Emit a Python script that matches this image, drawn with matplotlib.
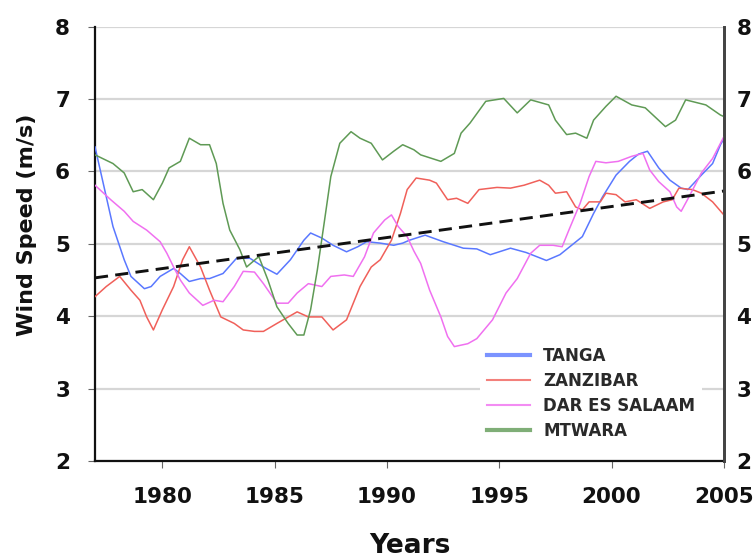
import numpy as np
import matplotlib
matplotlib.use("Agg")
import matplotlib.pyplot as plt

# values (smoothed wind speed, m/s)
tanga_years = [1977.0, 1977.4, 1977.8, 1978.3, 1978.6, 1979.2, 1979.5, 1979.9, 1980.5, 1980.8,
               1981.2, 1981.7, 1982.1, 1982.7, 1983.3, 1983.9, 1984.5, 1985.1, 1985.7, 1986.3,
               1986.6, 1987.1, 1987.6, 1988.2, 1988.7, 1989.1, 1989.7, 1990.3, 1990.7, 1991.0,
               1991.7, 1992.5, 1993.4, 1994.0, 1994.6, 1995.5, 1996.2, 1997.1, 1997.7, 1998.1,
               1998.7, 1999.2, 1999.6, 2000.2, 2000.8, 2001.2, 2001.6, 2002.1, 2002.6, 2003.1,
               2003.4, 2004.0, 2004.5, 2004.85, 2005.0]
tanga = [6.34, 5.79, 5.24, 4.78, 4.55, 4.38, 4.41, 4.55, 4.66, 4.59,
         4.48, 4.52, 4.52, 4.59, 4.80, 4.80, 4.68, 4.58, 4.78, 5.05,
         5.15, 5.08, 4.98, 4.89, 4.96, 5.03, 5.01, 4.98, 5.01, 5.05,
         5.12, 5.03, 4.94, 4.93, 4.85, 4.94, 4.88, 4.77, 4.85, 4.95,
         5.10, 5.42, 5.65, 5.95, 6.14, 6.24, 6.28, 6.05, 5.88, 5.77,
         5.75, 5.95, 6.11, 6.37, 6.45]

zanzibar_years = [1977.0, 1977.5, 1978.1, 1978.6, 1979.0, 1979.3, 1979.6, 1980.0, 1980.5, 1980.9,
                  1981.2, 1981.7, 1982.1, 1982.6, 1983.2, 1983.6, 1984.1, 1984.5, 1985.1, 1986.0,
                  1986.5, 1987.1, 1987.6, 1988.2, 1988.8, 1989.3, 1989.7, 1990.2, 1990.6, 1990.9,
                  1991.3, 1991.9, 1992.2, 1992.7, 1993.1, 1993.6, 1994.1, 1994.9, 1995.5, 1996.1,
                  1996.8, 1997.2, 1997.5, 1998.0, 1998.4, 1998.7, 1999.0, 1999.5, 1999.75, 2000.2,
                  2000.6, 2001.1, 2001.7, 2002.3, 2002.7, 2003.0, 2003.6, 2004.0, 2004.5, 2005.0]
zanzibar = [4.27, 4.41, 4.55, 4.36, 4.22, 3.99, 3.81, 4.09, 4.41, 4.78,
            4.96, 4.68, 4.36, 3.99, 3.90, 3.81, 3.79, 3.79, 3.90, 4.06,
            3.99, 3.99, 3.81, 3.95, 4.41, 4.68, 4.78, 5.05, 5.42, 5.75,
            5.91, 5.88, 5.84, 5.61, 5.63, 5.56, 5.75, 5.78, 5.77, 5.81,
            5.88, 5.81, 5.70, 5.72, 5.51, 5.47, 5.58, 5.58, 5.70, 5.68,
            5.58, 5.61, 5.49, 5.58, 5.61, 5.77, 5.75, 5.70, 5.58, 5.40]

dar_years = [1977.0, 1977.7, 1978.3, 1978.7, 1979.3, 1979.9, 1980.2, 1980.5, 1980.8, 1981.2,
             1981.8, 1982.3, 1982.7, 1983.2, 1983.6, 1984.1, 1984.5, 1985.1, 1985.6, 1986.0,
             1986.5, 1987.1, 1987.5, 1988.1, 1988.5, 1989.0, 1989.4, 1989.9, 1990.2, 1990.5,
             1990.9, 1991.2, 1991.5, 1991.9, 1992.4, 1992.7, 1993.0, 1993.6, 1994.0, 1994.7,
             1995.3, 1995.8, 1996.4, 1996.8, 1997.4, 1997.8, 1998.1, 1998.6, 1999.0, 1999.3,
             1999.75, 2000.3, 2000.9, 2001.4, 2001.7, 2002.1, 2002.6, 2002.9, 2003.1, 2003.45,
             2004.0, 2004.5, 2005.0]
dar = [5.81, 5.61, 5.45, 5.31, 5.19, 5.03, 4.87, 4.68, 4.50, 4.32,
       4.15, 4.22, 4.20, 4.41, 4.62, 4.61, 4.45, 4.18, 4.18, 4.32,
       4.45, 4.41, 4.55, 4.57, 4.55, 4.82, 5.15, 5.33, 5.40, 5.24,
       5.10, 4.90, 4.73, 4.36, 3.99, 3.72, 3.58, 3.62, 3.69, 3.95,
       4.32, 4.52, 4.87, 4.98, 4.98, 4.96, 5.19, 5.56, 5.93, 6.14,
       6.12, 6.14, 6.21, 6.25, 6.02, 5.86, 5.72, 5.51, 5.45, 5.65,
       5.98, 6.18, 6.48]

mtwara_years = [1977.0, 1977.8, 1978.3, 1978.7, 1979.1, 1979.6, 1980.0, 1980.3, 1980.8, 1981.2,
                1981.7, 1982.1, 1982.4, 1982.7, 1983.0, 1983.45, 1983.75, 1984.2, 1984.3, 1984.7,
                1985.1, 1985.6, 1986.0, 1986.3, 1986.6, 1986.9, 1987.2, 1987.5, 1987.9, 1988.4,
                1988.8, 1989.3, 1989.8, 1990.3, 1990.7, 1991.2, 1991.5, 1992.4, 1993.0, 1993.3,
                1993.7, 1994.4, 1995.2, 1995.8, 1996.4, 1997.2, 1997.5, 1998.0, 1998.4, 1998.9,
                1999.2, 1999.75, 2000.2, 2000.9, 2001.5, 2002.4, 2002.85, 2003.3, 2004.2, 2004.85,
                2005.0]
mtwara = [6.23, 6.11, 5.98, 5.72, 5.75, 5.61, 5.84, 6.05, 6.14, 6.46,
          6.37, 6.37, 6.11, 5.56, 5.19, 4.92, 4.68, 4.80, 4.82, 4.50,
          4.13, 3.90, 3.74, 3.74, 4.09, 4.64, 5.28, 5.93, 6.39, 6.55,
          6.46, 6.39, 6.16, 6.28, 6.37, 6.30, 6.23, 6.14, 6.25, 6.53,
          6.67, 6.97, 7.01, 6.81, 6.99, 6.92, 6.71, 6.51, 6.53, 6.46,
          6.71, 6.90, 7.04, 6.92, 6.88, 6.62, 6.71, 6.99, 6.92, 6.78,
          6.76]

trend_years = [1977.0, 2005.0]
trend = [4.53, 5.73]

labels = ["TANGA", "ZANZIBAR", "DAR ES SALAAM", "MTWARA"]
colors = ["#5a78ff", "#f0605a", "#f070f0", "#5f9a55"]

fig = plt.figure(figsize=(7.54, 5.58), dpi=100)
ax = fig.add_axes([0.126, 0.174, 0.834, 0.778])

series = [(tanga_years, tanga), (zanzibar_years, zanzibar), (dar_years, dar), (mtwara_years, mtwara)]
for (xs, ys), lab, col in zip(series, labels, colors):
    ax.plot(xs, ys, color=col, lw=1.1, label=lab, zorder=3)

ax.plot(trend_years, trend, color="#111111", lw=2.1, linestyle=(0, (4.5, 2.5)), zorder=4)

ax.set_xlim(1977, 2005)
ax.set_ylim(2, 8)
ax.set_xticks([1980, 1985, 1990, 1995, 2000, 2005])
ax.set_yticks(np.arange(2, 9, 1))
ax.yaxis.grid(True, color="#d6d6d6", lw=1.6)
ax.set_axisbelow(True)

for s in ["left", "bottom"]:
    ax.spines[s].set_color("#111111")
    ax.spines[s].set_linewidth(1.6)
ax.spines["top"].set_visible(False)
ax.spines["right"].set_color("#444444")
ax.spines["right"].set_linewidth(2.0)

ax.tick_params(axis="x", direction="out", length=5, color="#666666", pad=14,
               labelsize=15.5)
ax.tick_params(axis="y", direction="out", length=5, color="#666666", pad=13,
               labelsize=15.5)
for t in ax.get_xticklabels() + ax.get_yticklabels():
    t.set_fontweight("bold")
    t.set_color("#111111")

ax2 = ax.twinx()
ax2.set_ylim(2, 8)
ax2.set_yticks(np.arange(2, 9, 1))
ax2.tick_params(axis="y", length=0, pad=9, labelsize=15.5)
for t in ax2.get_yticklabels():
    t.set_fontweight("bold")
    t.set_color("#111111")
for s in ["top", "left", "bottom"]:
    ax2.spines[s].set_visible(False)
ax2.spines["right"].set_color("#444444")
ax2.spines["right"].set_linewidth(2.0)

fig.text(27 / 754, 1 - 225 / 558, "Wind Speed (m/s)", rotation=90, ha="center", va="center",
         fontsize=16, fontweight="bold", color="#111111")
fig.text(410 / 754, 1 - 546 / 558, "Years", ha="center", va="center",
         fontsize=19, fontweight="bold", color="#111111")

leg = ax2.legend(*ax.get_legend_handles_labels(), loc="upper left",
                 bbox_to_anchor=(0.612, 0.277), borderaxespad=0,
                 frameon=True, facecolor="white", edgecolor="none", framealpha=1,
                 prop={"size": 12, "weight": "bold"}, labelspacing=0.42,
                 handlelength=2.6, handletextpad=0.8)
for t in leg.get_texts():
    t.set_color("#2a2a2a")
for ln, w in zip(leg.get_lines(), [3.0, 1.5, 1.5, 3.0]):
    ln.set_linewidth(w)
    ln.set_alpha(0.8)

fig.savefig("out.png", dpi=100)
